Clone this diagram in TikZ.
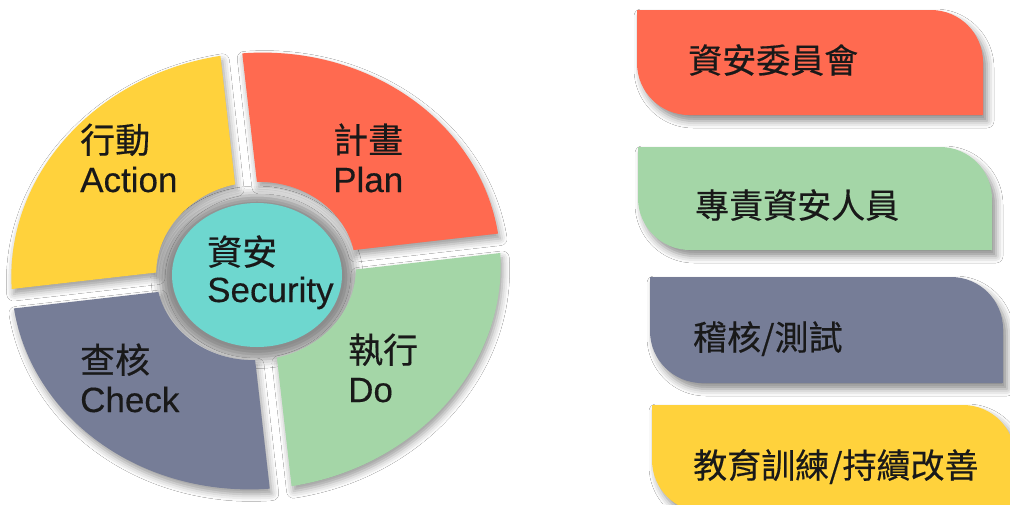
\documentclass[tikz,border=0pt]{standalone}
\usepackage{fontspec}
\setmainfont[FakeBold=0.3]{Liberation Sans}
\newfontfamily\cjk[FakeBold=0.4]{Noto Sans CJK TC}
\usetikzlibrary{shadows.blur}
\definecolor{cred}{HTML}{FF6A50}
\definecolor{cyellow}{HTML}{FFD23C}
\definecolor{cgreen}{HTML}{A4D6A7}
\definecolor{cgray}{HTML}{767D97}
\definecolor{cteal}{HTML}{6ED7CF}
\begin{document}
\begin{tikzpicture}[x=1pt,y=-1pt,
  seg/.style={blur shadow={shadow xshift=2pt,shadow yshift=-5pt,shadow blur radius=7pt,shadow opacity=40}},
  leaf/.style={blur shadow={shadow xshift=4pt,shadow yshift=-6pt,shadow blur radius=7pt,shadow opacity=45}},
  zh/.style={font=\cjk\fontsize{35}{35}\selectfont, inner sep=0pt, anchor=base west, text=black!90},
  en/.style={font=\fontsize{35}{35}\selectfont, inner sep=0pt, anchor=base west, text=black!90},
  boxtxt/.style={font=\cjk\fontsize{34}{34}\selectfont, inner sep=0pt, anchor=base west, text=black!90}]
\useasboundingbox (0,0) rectangle (1010,504);
\clip (0,0) rectangle (1010,504);
\fill[white] (0,0) rectangle (1010,504);

% halo around centre
\path[blur shadow={shadow xshift=0pt,shadow yshift=-2pt,shadow scale=1.14,shadow blur radius=8pt,shadow opacity=45}]
  (257,275) ellipse [x radius=85, y radius=72];

% wheel segments
\begin{scope}[shift={(256,271)}, rotate=6.5, yscale=0.89]
  \path[seg, fill=cred] (-87.43:245) arc[start angle=-87.43, end angle=-2.57, radius=245]
     -- (-6.3:100) arc[start angle=-6.3, end angle=-83.7, radius=100] -- cycle;
  \path[seg, fill=cgreen] (2.57:245) arc[start angle=2.57, end angle=87.43, radius=245]
     -- (83.7:100) arc[start angle=83.7, end angle=6.3, radius=100] -- cycle;
  \path[seg, fill=cgray] (92.57:245) arc[start angle=92.57, end angle=177.43, radius=245]
     -- (173.7:100) arc[start angle=173.7, end angle=96.3, radius=100] -- cycle;
  \path[seg, fill=cyellow] (182.57:245) arc[start angle=182.57, end angle=267.43, radius=245]
     -- (263.7:100) arc[start angle=263.7, end angle=186.3, radius=100] -- cycle;
\end{scope}

% centre
\path[fill=cteal] (257,275) ellipse [x radius=85, y radius=72];

% wheel labels
\node[zh] (planzh) at (333,153) {計畫};
\node[en] (planen) at (333,192) {Plan};
\node[zh] (actzh) at (80,153) {行動};
\node[en] (acten) at (80,192) {Action};
\node[zh] (seczh) at (207,265) {資安};
\node[en] (secen) at (207,302) {Security};
\node[zh] (chkzh) at (80,373) {查核};
\node[en] (chken) at (80,412) {Check};
\node[zh] (dozh) at (348,363) {執行};
\node[en] (doen) at (348,402) {Do};

% right boxes
\path[leaf, fill=cred] (637,10) -- (931,10) arc[start angle=-90, end angle=0, radius=52]
  -- (983,115) -- (689,115) arc[start angle=90, end angle=180, radius=52] -- cycle;
\path[leaf, fill=cgreen] (638,147) -- (940,147) arc[start angle=-90, end angle=0, radius=52]
  -- (992,250) -- (690,250) arc[start angle=90, end angle=180, radius=52] -- cycle;
\path[leaf, fill=cgray] (650,277) -- (951,277) arc[start angle=-90, end angle=0, radius=52]
  -- (1003,383) -- (702,383) arc[start angle=90, end angle=180, radius=52] -- cycle;
\path[leaf, fill=cyellow] (652,405) -- (963,405) arc[start angle=-90, end angle=0, radius=52]
  -- (1015,512) -- (704,512) arc[start angle=90, end angle=180, radius=52] -- cycle;

\node[boxtxt] (b1) at (688,73) {資安委員會};
\node[boxtxt] (b2) at (695,218) {專責資安人員};
\node[boxtxt] (b3) at (693,350) {稽核/測試};
\node[boxtxt] (b4) at (693,478) {教育訓練/持續改善};
\end{tikzpicture}
\end{document}
